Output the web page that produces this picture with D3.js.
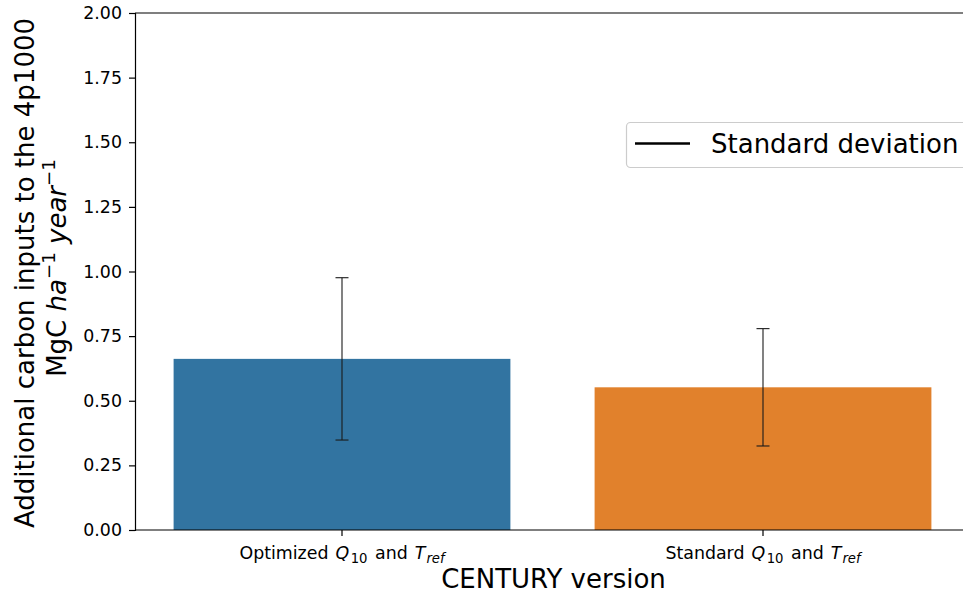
<!DOCTYPE html>
<html>
<head>
<meta charset="utf-8">
<script src="https://cdn.jsdelivr.net/npm/d3@7"></script>
<style>
  html, body { margin: 0; padding: 0; background: #fff; }
  svg { display: block; font-family: "DejaVu Sans", sans-serif; }
</style>
</head>
<body>
<svg id="chart" width="963" height="594"></svg>
<script>
// ---- data ----
const categories = ["optimized", "standard"];
const meanValues = [0.662, 0.552];
const sdValues = [0.314, 0.227];
const barColors = ["#3274a1", "#e1812c"];
const yTicks = [0, 0.25, 0.5, 0.75, 1.0, 1.25, 1.5, 1.75, 2.0];
const tickLabelPrefix = ["Optimized ", "Standard "];
const legendLabel = "Standard deviation";
const xAxisLabel = "CENTURY version";

const svg = d3.select("#chart");
const plotLeft = 135, plotTop = 13, plotBottom = 530, plotRight = 974;

const x = d3.scaleBand().domain(categories).range([131.5, 973.5])
  .paddingInner(0.2).paddingOuter(0.1);
const y = d3.scaleLinear().domain([0, 2]).range([plotBottom, plotTop]);

// bars
svg.append("g").selectAll("rect").data(categories).join("rect")
  .attr("x", d => x(d))
  .attr("width", x.bandwidth())
  .attr("y", (d, i) => y(meanValues[i]))
  .attr("height", (d, i) => y(0) - y(meanValues[i]))
  .attr("fill", (d, i) => barColors[i]);

// error bars
const eg = svg.append("g").attr("stroke", "#1a1a1a").attr("stroke-width", 1.1);
categories.forEach((c, i) => {
  const cx = x(c) + x.bandwidth() / 2;
  const lo = y(meanValues[i] - sdValues[i]), hi = y(meanValues[i] + sdValues[i]);
  eg.append("line").attr("x1", cx).attr("x2", cx).attr("y1", lo).attr("y2", hi);
  eg.append("line").attr("x1", cx - 6.5).attr("x2", cx + 6.5).attr("y1", lo).attr("y2", lo);
  eg.append("line").attr("x1", cx - 6.5).attr("x2", cx + 6.5).attr("y1", hi).attr("y2", hi);
});

// top spine
svg.append("line").attr("x1", plotLeft).attr("x2", plotRight).attr("y1", plotTop).attr("y2", plotTop)
  .attr("stroke", "#000").attr("stroke-width", 1.2);

// y axis
const yAxis = svg.append("g").attr("transform", `translate(${plotLeft},0)`)
  .call(d3.axisLeft(y).tickValues(yTicks).tickFormat(d3.format(".2f")).tickSize(6).tickPadding(7));
yAxis.select(".domain").attr("stroke", "#000").attr("stroke-width", 1.2);
yAxis.selectAll(".tick line").attr("stroke", "#000").attr("stroke-width", 1.2);
yAxis.selectAll(".tick text").attr("font-size", 17.4).attr("fill", "#000")
  .attr("font-family", "DejaVu Sans");

// x axis
const xAxis = svg.append("g").attr("transform", `translate(0,${plotBottom})`)
  .call(d3.axisBottom(x).tickSize(6).tickFormat(""));
xAxis.select(".domain").remove();
xAxis.selectAll(".tick line").attr("stroke", "#000").attr("stroke-width", 1.2);
svg.append("line").attr("x1", plotLeft).attr("x2", plotRight).attr("y1", plotBottom).attr("y2", plotBottom)
  .attr("stroke", "#000").attr("stroke-width", 1.2);

// x tick labels with math
categories.forEach((c, i) => {
  const cx = x(c) + x.bandwidth() / 2;
  const t = svg.append("text").attr("x", cx).attr("y", 559)
    .attr("text-anchor", "middle").attr("font-size", 17.4).attr("fill", "#000");
  t.append("tspan").text(tickLabelPrefix[i]);
  t.append("tspan").attr("font-style", "italic").attr("dx", 1.5).text("Q");
  t.append("tspan").attr("font-size", 13.2).attr("dx", 1.5).attr("dy", 4).text("10");
  t.append("tspan").attr("dy", -4).attr("dx", 2).text(" and ");
  t.append("tspan").attr("font-style", "italic").attr("dx", 1.5).text("T");
  t.append("tspan").attr("font-style", "italic").attr("font-size", 13.2).attr("dx", 1)
    .attr("dy", 4).text("ref");
});

// x axis label
svg.append("text").attr("x", (plotLeft + plotRight) / 2 - 1).attr("y", 588)
  .attr("text-anchor", "middle").attr("font-size", 26).attr("fill", "#000").text(xAxisLabel);

// y axis label (two lines)
svg.append("text").attr("transform", "translate(34,273) rotate(-90)")
  .attr("text-anchor", "middle").attr("font-size", 26).attr("fill", "#000")
  .text("Additional carbon inputs to the 4p1000");
const yl2 = svg.append("text").attr("transform", "translate(66,268) rotate(-90)")
  .attr("text-anchor", "middle").attr("font-size", 26).attr("fill", "#000");
yl2.append("tspan").text("MgC ");
yl2.append("tspan").attr("font-style", "italic").text("ha");
yl2.append("tspan").attr("font-size", 18.2).attr("dy", -11).text("\u22121");
yl2.append("tspan").attr("dy", 11).text(" ");
yl2.append("tspan").attr("font-style", "italic").text("year");
yl2.append("tspan").attr("font-size", 18.2).attr("dy", -11).text("\u22121");

// legend
const lg = svg.append("g");
lg.append("rect").attr("x", 626.5).attr("y", 122.5).attr("width", 360).attr("height", 45)
  .attr("rx", 4).attr("fill", "#fff").attr("fill-opacity", 0.8)
  .attr("stroke", "#cccccc").attr("stroke-width", 1.2);
lg.append("line").attr("x1", 635).attr("x2", 690).attr("y1", 143.5).attr("y2", 143.5)
  .attr("stroke", "#000").attr("stroke-width", 2.5);
lg.append("text").attr("x", 711).attr("y", 152.5).attr("font-size", 26).attr("fill", "#000")
  .text(legendLabel);
</script>
</body>
</html>
